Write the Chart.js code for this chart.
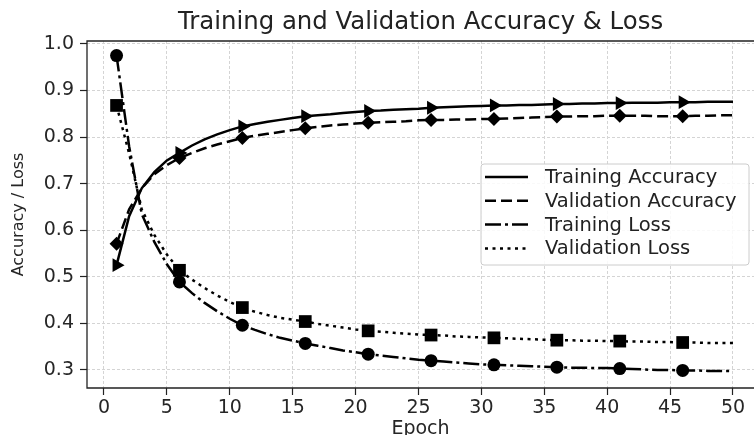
<!DOCTYPE html>
<html>
<head>
<meta charset="utf-8">
<script src="https://cdn.jsdelivr.net/npm/chart.js@4"></script>
<style>
  body { margin: 0; background: #fff; }
  #wrap { width: 754px; height: 435px; }
</style>
</head>
<body>
<div id="wrap"><canvas id="grafikAkurasi"></canvas></div>
<script>
const epochs = [1, 2, 3, 4, 5, 6, 7, 8, 9, 10, 11, 12, 13, 14, 15, 16, 17, 18, 19, 20,
  21, 22, 23, 24, 25, 26, 27, 28, 29, 30, 31, 32, 33, 34, 35, 36, 37, 38, 39, 40,
  41, 42, 43, 44, 45, 46, 47, 48, 49, 50];

const trainAcc = [0.525, 0.630, 0.690, 0.725, 0.750, 0.766, 0.782, 0.795, 0.806, 0.815,
  0.823, 0.828, 0.833, 0.837, 0.841, 0.845, 0.847, 0.849, 0.852, 0.854,
  0.856, 0.857, 0.859, 0.860, 0.861, 0.863, 0.864, 0.865, 0.866, 0.867,
  0.868, 0.868, 0.869, 0.869, 0.870, 0.871, 0.871, 0.872, 0.872, 0.873,
  0.873, 0.874, 0.874, 0.874, 0.875, 0.875, 0.875, 0.876, 0.876, 0.876];

const valAcc = [0.571, 0.645, 0.690, 0.720, 0.740, 0.755, 0.766, 0.776, 0.784, 0.791,
  0.798, 0.803, 0.807, 0.811, 0.815, 0.819, 0.822, 0.825, 0.827, 0.829,
  0.831, 0.832, 0.833, 0.834, 0.836, 0.837, 0.837, 0.838, 0.838, 0.839,
  0.839, 0.840, 0.841, 0.842, 0.843, 0.844, 0.844, 0.845, 0.845, 0.846,
  0.846, 0.846, 0.846, 0.845, 0.845, 0.845, 0.846, 0.846, 0.847, 0.847];

const trainLoss = [0.975, 0.780, 0.635, 0.575, 0.527, 0.489, 0.465, 0.444, 0.426, 0.410,
  0.396, 0.386, 0.377, 0.369, 0.363, 0.357, 0.352, 0.347, 0.342, 0.338,
  0.334, 0.331, 0.328, 0.325, 0.322, 0.320, 0.318, 0.316, 0.314, 0.312,
  0.311, 0.310, 0.309, 0.308, 0.307, 0.306, 0.305, 0.305, 0.304, 0.304,
  0.303, 0.302, 0.301, 0.300, 0.300, 0.299, 0.299, 0.298, 0.298, 0.298];

const valLoss = [0.868, 0.765, 0.645, 0.590, 0.548, 0.514, 0.494, 0.476, 0.460, 0.446,
  0.434, 0.425, 0.418, 0.412, 0.408, 0.404, 0.399, 0.395, 0.391, 0.387,
  0.384, 0.382, 0.380, 0.378, 0.376, 0.375, 0.374, 0.372, 0.371, 0.370,
  0.369, 0.368, 0.367, 0.366, 0.365, 0.364, 0.364, 0.363, 0.363, 0.362,
  0.362, 0.361, 0.361, 0.360, 0.360, 0.359, 0.359, 0.358, 0.358, 0.358];

const xTicks = [0, 5, 10, 15, 20, 25, 30, 35, 40, 45, 50];
const yTicks = [0.3, 0.4, 0.5, 0.6, 0.7, 0.8, 0.9, 1.0];

Chart.defaults.font.family = 'DejaVu Sans';
Chart.defaults.color = '#262626';

// marker tiap 5 epoch, mulai epoch 1
const tiap5 = r => ctx => (ctx.dataIndex % 5 === 0 ? r : 0);
const titik = arr => epochs.map((e, i) => ({ x: e, y: arr[i] }));

const seri = [
  { label: 'Training Accuracy', data: titik(trainAcc), borderDash: [], pointStyle: 'triangle', pointRotation: 90, pointRadius: tiap5(8) },
  { label: 'Validation Accuracy', data: titik(valAcc), borderDash: [11, 5], pointStyle: 'rectRot', pointRotation: 0, pointRadius: tiap5(7) },
  { label: 'Training Loss', data: titik(trainLoss), borderDash: [16, 4, 3, 4], pointStyle: 'circle', pointRotation: 0, pointRadius: tiap5(6.5) },
  { label: 'Validation Loss', data: titik(valLoss), borderDash: [3, 4.5], pointStyle: 'rect', pointRotation: 0, pointRadius: tiap5(9) }
].map(d => Object.assign(d, {
  borderColor: '#000',
  backgroundColor: '#000',
  pointBackgroundColor: '#000',
  pointBorderColor: '#000',
  pointBorderWidth: 0,
  borderWidth: 2.5,
  tension: 0,
  fill: false
}));

// garis tepi kotak (atas, kiri, bawah) + legenda di dalam area plot
const bingkai = {
  id: 'bingkai',
  afterDatasetsDraw(chart) {
    const { ctx, chartArea: a } = chart;
    ctx.save();
    ctx.strokeStyle = '#222';
    ctx.lineWidth = 1.3;
    ctx.beginPath();
    ctx.moveTo(a.right, a.top);
    ctx.lineTo(a.left, a.top);
    ctx.lineTo(a.left, a.bottom);
    ctx.lineTo(a.right, a.bottom);
    ctx.stroke();

    // legenda
    const bx = 481, by = 164, bw = 268, bh = 101;
    ctx.fillStyle = 'rgba(255,255,255,0.85)';
    ctx.strokeStyle = '#cccccc';
    ctx.lineWidth = 1;
    ctx.beginPath();
    ctx.roundRect(bx, by, bw, bh, 3);
    ctx.fill();
    ctx.stroke();

    ctx.font = '19.5px "DejaVu Sans"';
    ctx.textBaseline = 'middle';
    ctx.fillStyle = '#222';
    chart.data.datasets.forEach((ds, i) => {
      const y = by + 13 + i * 23.8;
      ctx.beginPath();
      ctx.setLineDash(ds.borderDash);
      ctx.strokeStyle = '#000';
      ctx.lineWidth = 2.5;
      ctx.moveTo(bx + 4, y);
      ctx.lineTo(bx + 47, y);
      ctx.stroke();
      ctx.setLineDash([]);
      ctx.fillText(ds.label, bx + 64, y + 1);
    });
    ctx.restore();
  }
};

new Chart(document.getElementById('grafikAkurasi'), {
  type: 'line',
  data: { datasets: seri },
  options: {
    responsive: true,
    maintainAspectRatio: false,
    animation: false,
    layout: { padding: 0, autoPadding: false },
    plugins: {
      legend: { display: false },
      tooltip: { enabled: false },
      title: {
        display: true,
        text: 'Training and Validation Accuracy & Loss',
        fullSize: false,
        color: '#222',
        font: { size: 24.4, weight: 'normal', lineHeight: 1.2 },
        padding: { top: 8, bottom: 3.7 }
      }
    },
    scales: {
      x: {
        type: 'linear',
        min: -1.35,
        max: 51.67,
        afterFit: s => { s.height = 47; s.paddingLeft = 0; s.paddingRight = 0; },
        afterBuildTicks: s => { s.ticks = xTicks.map(v => ({ value: v })); },
        ticks: { font: { size: 19 }, padding: 2, maxRotation: 0, includeBounds: false },
        grid: { color: '#d4d4d4', lineWidth: 1, tickColor: '#222', tickLength: 7, tickWidth: 1.2, tickBorderDash: [] },
        border: { display: false, dash: [3, 2] },
        title: { display: true, text: 'Epoch', font: { size: 19, lineHeight: 0.6 }, padding: { top: 0, bottom: 0 } }
      },
      y: {
        min: 0.2613,
        max: 1.0064,
        afterFit: s => { s.width = 87; s.paddingTop = 0; s.paddingBottom = 0; },
        afterBuildTicks: s => { s.ticks = yTicks.map(v => ({ value: v })); },
        ticks: { font: { size: 19 }, padding: 6, includeBounds: false, callback: v => v.toFixed(1) },
        grid: { color: '#d4d4d4', lineWidth: 1, tickColor: '#222', tickLength: 7, tickWidth: 1.2, tickBorderDash: [] },
        border: { display: false, dash: [3, 2] },
        title: { display: true, text: 'Accuracy / Loss', font: { size: 16 }, padding: { top: 9, bottom: 4 } }
      }
    }
  },
  plugins: [bingkai]
});
</script>
</body>
</html>
